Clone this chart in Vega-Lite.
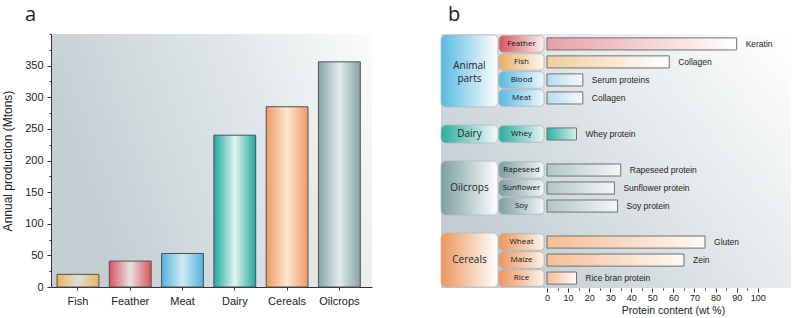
{
  "$schema": "https://vega.github.io/schema/vega-lite/v6.json",
  "padding": {"left": 1, "top": 4, "right": 5, "bottom": 0},
  "background": "white",
  "config": {"view": {"stroke": null}, "font": "Liberation Sans"},
  "datasets": {
    "production": [
      {"source": "Fish", "production": 20},
      {"source": "Feather", "production": 41},
      {"source": "Meat", "production": 53},
      {"source": "Dairy", "production": 240},
      {"source": "Cereals", "production": 285},
      {"source": "Oilcrops", "production": 356}
    ],
    "proteins": [
      {"group": "Animal parts", "sub": "Feather", "protein": "Keratin", "content": 90},
      {"group": "Animal parts", "sub": "Fish", "protein": "Collagen", "content": 58},
      {"group": "Animal parts", "sub": "Blood", "protein": "Serum proteins", "content": 17},
      {"group": "Animal parts", "sub": "Meat", "protein": "Collagen", "content": 17},
      {"group": "Dairy", "sub": "Whey", "protein": "Whey protein", "content": 14},
      {"group": "Oilcrops", "sub": "Rapeseed", "protein": "Rapeseed protein", "content": 35},
      {"group": "Oilcrops", "sub": "Sunflower", "protein": "Sunflower protein", "content": 32},
      {"group": "Oilcrops", "sub": "Soy", "protein": "Soy protein", "content": 33.5},
      {"group": "Cereals", "sub": "Wheat", "protein": "Gluten", "content": 75},
      {"group": "Cereals", "sub": "Maize", "protein": "Zein", "content": 65},
      {"group": "Cereals", "sub": "Rice", "protein": "Rice bran protein", "content": 14}
    ],
    "groups": [
      {"group": "Animal parts", "first": "Feather", "last": "Meat", "mid": "Fish"},
      {"group": "Dairy", "first": "Whey", "last": "Whey", "mid": "Whey"},
      {"group": "Oilcrops", "first": "Rapeseed", "last": "Soy", "mid": "Sunflower"},
      {"group": "Cereals", "first": "Wheat", "last": "Rice", "mid": "Maize"}
    ]
  },
  "spacing": 68,
  "hconcat": [
    {
      "title": {"text": "a", "anchor": "start", "frame": "group", "dx": -26, "fontSize": 20, "font": "Open Sans", "fontWeight": "normal", "color": "#222", "offset": 9},
      "width": 321,
      "height": 253,
      "view": {"stroke": null, "fill": {"gradient": "linear", "x1": 0, "y1": 0.3, "x2": 1, "y2": 0, "stops": [{"offset": 0, "color": "#c3ced3"}, {"offset": 0.6, "color": "#e2e8ea"}, {"offset": 1, "color": "#fbfcfc"}]}},
      "data": {"name": "production"},
      "mark": {"type": "bar", "stroke": "#505050", "strokeWidth": 1},
      "encoding": {
        "x": {
          "field": "source", "type": "nominal", "sort": null,
          "scale": {"paddingInner": 0.2, "paddingOuter": 0.17, "align": 0.34},
          "axis": {"title": null, "labelAngle": 0, "labelFontSize": 11, "labelColor": "#222", "tickSize": 3, "labelPadding": 5, "domainColor": "#333", "tickColor": "#333", "grid": false}
        },
        "y": {
          "field": "production", "type": "quantitative",
          "scale": {"domain": [0, 400], "nice": false},
          "axis": {
            "title": "Annual production (Mtons)", "titleFontSize": 12, "titleFontWeight": "normal", "titleColor": "#222",
            "values": [0, 25, 50, 75, 100, 125, 150, 175, 200, 225, 250, 275, 300, 325, 350, 375, 400],
            "labelExpr": "datum.value % 50 === 0 && datum.value < 400 ? datum.label : ''",
            "tickSize": {"condition": {"test": "datum.value % 50 !== 0 || datum.value === 400", "value": 2}, "value": 4},
            "grid": false, "labelFontSize": 11, "labelColor": "#222", "labelPadding": 4, "titlePadding": 10,
            "domainColor": "#333", "tickColor": "#333"
          }
        },
        "fill": {
          "condition": [
            {"test": "datum.source === 'Fish'", "value": {"gradient": "linear", "x1": 0, "y1": 0, "x2": 1, "y2": 0, "stops": [{"offset": 0, "color": "#e9b65c"}, {"offset": 0.5, "color": "#dfdfdb"}, {"offset": 1, "color": "#e9b65c"}]}},
            {"test": "datum.source === 'Feather'", "value": {"gradient": "linear", "x1": 0, "y1": 0, "x2": 1, "y2": 0, "stops": [{"offset": 0, "color": "#d9545e"}, {"offset": 0.5, "color": "#e6e4e4"}, {"offset": 1, "color": "#d9545e"}]}},
            {"test": "datum.source === 'Meat'", "value": {"gradient": "linear", "x1": 0, "y1": 0, "x2": 1, "y2": 0, "stops": [{"offset": 0, "color": "#52b2df"}, {"offset": 0.5, "color": "#d3eaf4"}, {"offset": 1, "color": "#52b2df"}]}},
            {"test": "datum.source === 'Dairy'", "value": {"gradient": "linear", "x1": 0, "y1": 0, "x2": 1, "y2": 0, "stops": [{"offset": 0, "color": "#1faa9f"}, {"offset": 0.5, "color": "#e2f4f2"}, {"offset": 1, "color": "#1faa9f"}]}},
            {"test": "datum.source === 'Cereals'", "value": {"gradient": "linear", "x1": 0, "y1": 0, "x2": 1, "y2": 0, "stops": [{"offset": 0, "color": "#ef9a60"}, {"offset": 0.5, "color": "#fde6d6"}, {"offset": 1, "color": "#ef9a60"}]}}
          ],
          "value": {"gradient": "linear", "x1": 0, "y1": 0, "x2": 1, "y2": 0, "stops": [{"offset": 0, "color": "#88a4a8"}, {"offset": 0.5, "color": "#e2ebeb"}, {"offset": 1, "color": "#88a4a8"}]}
        }
      }
    },
    {
      "title": {"text": "b", "anchor": "start", "frame": "group", "dx": 7, "fontSize": 20, "font": "Open Sans", "fontWeight": "normal", "color": "#222", "offset": 9},
      "width": 350,
      "height": 254,
      "view": {"stroke": null, "fill": {"gradient": "linear", "x1": 0, "y1": 0.6, "x2": 1, "y2": 0, "stops": [{"offset": 0, "color": "#c3ced3"}, {"offset": 0.5, "color": "#e3e8ea"}, {"offset": 1, "color": "#ffffff"}]}},
      "layer": [
        {
          "data": {"name": "groups"},
          "mark": {"type": "rect", "cornerRadius": 5, "stroke": "#b8b8b8", "strokeWidth": 0.8},
          "encoding": {
            "x": {"datum": -50.3, "type": "quantitative", "scale": {"domain": [-50.3, 115.8], "nice": false, "zero": false},
                  "axis": {"title": "Protein content (wt %)", "titleFontSize": 10.5, "titleFontWeight": "normal", "titleColor": "#222", "titleX": 232, "titlePadding": 3, "values": [0, 5, 10, 15, 20, 25, 30, 35, 40, 45, 50, 55, 60, 65, 70, 75, 80, 85, 90, 95, 100], "labelExpr": "datum.value % 10 === 0 ? datum.label : ''", "tickSize": {"condition": {"test": "datum.value % 10 !== 0", "value": 2}, "value": 4}, "domain": false, "grid": false, "labelFontSize": 9, "labelColor": "#222", "labelPadding": 1, "tickColor": "#333"}},
            "x2": {"datum": -23.3},
            "y": {"field": "first", "type": "nominal", "bandPosition": 0, "axis": null,
                  "scale": {"domain": ["Feather", "Fish", "Blood", "Meat", " ", "Whey", "  ", "Rapeseed", "Sunflower", "Soy", "   ", "Wheat", "Maize", "Rice"], "paddingInner": 0, "paddingOuter": 0.05}},
            "y2": {"field": "last", "bandPosition": 1},
            "fill": {
              "condition": [
                {"test": "datum.group === 'Animal parts'", "value": {"gradient": "linear", "x1": 0, "y1": 0, "x2": 1, "y2": 0, "stops": [{"offset": 0, "color": "#58b9e3"}, {"offset": 1, "color": "#ffffff"}]}},
                {"test": "datum.group === 'Dairy'", "value": {"gradient": "linear", "x1": 0, "y1": 0, "x2": 1, "y2": 0, "stops": [{"offset": 0, "color": "#2aada2"}, {"offset": 1, "color": "#f4fbfa"}]}},
                {"test": "datum.group === 'Oilcrops'", "value": {"gradient": "linear", "x1": 0, "y1": 0, "x2": 1, "y2": 0, "stops": [{"offset": 0, "color": "#7b9ea2"}, {"offset": 1, "color": "#ffffff"}]}}
              ],
              "value": {"gradient": "linear", "x1": 0, "y1": 0, "x2": 1, "y2": 0, "stops": [{"offset": 0, "color": "#ed965c"}, {"offset": 1, "color": "#ffffff"}]}
            }
          }
        },
        {
          "data": {"name": "groups"},
          "transform": [{"filter": "datum.group === 'Animal parts'"}],
          "mark": {"type": "text", "fontSize": 10, "font": "Open Sans", "color": "#222", "lineBreak": " ", "lineHeight": 13, "baseline": "middle", "dy": -5},
          "encoding": {
            "x": {"datum": -36.8, "type": "quantitative",
                  "axis": {"title": "Protein content (wt %)", "titleFontSize": 10.5, "titleFontWeight": "normal", "titleColor": "#222", "titleX": 232, "titlePadding": 3, "values": [0, 5, 10, 15, 20, 25, 30, 35, 40, 45, 50, 55, 60, 65, 70, 75, 80, 85, 90, 95, 100], "labelExpr": "datum.value % 10 === 0 ? datum.label : ''", "tickSize": {"condition": {"test": "datum.value % 10 !== 0", "value": 2}, "value": 4}, "domain": false, "grid": false, "labelFontSize": 9, "labelColor": "#222", "labelPadding": 1, "tickColor": "#333"}},
            "y": {"field": "mid", "type": "nominal", "bandPosition": 1, "axis": null},
            "text": {"field": "group"}
          }
        },
        {
          "data": {"name": "groups"},
          "transform": [{"filter": "datum.group !== 'Animal parts'"}],
          "mark": {"type": "text", "fontSize": 10, "font": "Open Sans", "color": "#222", "baseline": "middle"},
          "encoding": {
            "x": {"datum": -36.8, "type": "quantitative",
                  "axis": {"title": "Protein content (wt %)", "titleFontSize": 10.5, "titleFontWeight": "normal", "titleColor": "#222", "titleX": 232, "titlePadding": 3, "values": [0, 5, 10, 15, 20, 25, 30, 35, 40, 45, 50, 55, 60, 65, 70, 75, 80, 85, 90, 95, 100], "labelExpr": "datum.value % 10 === 0 ? datum.label : ''", "tickSize": {"condition": {"test": "datum.value % 10 !== 0", "value": 2}, "value": 4}, "domain": false, "grid": false, "labelFontSize": 9, "labelColor": "#222", "labelPadding": 1, "tickColor": "#333"}},
            "y": {"field": "mid", "type": "nominal", "axis": null},
            "text": {"field": "group"}
          }
        },
        {
          "data": {"name": "proteins"},
          "mark": {"type": "bar", "cornerRadius": 4, "stroke": "#b0b0b0", "strokeWidth": 0.8, "height": {"band": 0.92}},
          "encoding": {
            "x": {"datum": -22.8, "type": "quantitative",
                  "axis": {"title": "Protein content (wt %)", "titleFontSize": 10.5, "titleFontWeight": "normal", "titleColor": "#222", "titleX": 232, "titlePadding": 3, "values": [0, 5, 10, 15, 20, 25, 30, 35, 40, 45, 50, 55, 60, 65, 70, 75, 80, 85, 90, 95, 100], "labelExpr": "datum.value % 10 === 0 ? datum.label : ''", "tickSize": {"condition": {"test": "datum.value % 10 !== 0", "value": 2}, "value": 4}, "domain": false, "grid": false, "labelFontSize": 9, "labelColor": "#222", "labelPadding": 1, "tickColor": "#333"}},
            "x2": {"datum": -1.4},
            "y": {"field": "sub", "type": "nominal", "axis": null},
            "fill": {
              "condition": [
                {"test": "datum.sub === 'Feather'", "value": {"gradient": "linear", "x1": 0, "y1": 0, "x2": 1, "y2": 0, "stops": [{"offset": 0, "color": "#d6545e"}, {"offset": 1, "color": "#fbf1f1"}]}},
                {"test": "datum.sub === 'Fish'", "value": {"gradient": "linear", "x1": 0, "y1": 0, "x2": 1, "y2": 0, "stops": [{"offset": 0, "color": "#e6b066"}, {"offset": 1, "color": "#fdf8f0"}]}},
                {"test": "datum.group === 'Animal parts'", "value": {"gradient": "linear", "x1": 0, "y1": 0, "x2": 1, "y2": 0, "stops": [{"offset": 0, "color": "#58b9e3"}, {"offset": 1, "color": "#eef8fc"}]}},
                {"test": "datum.group === 'Dairy'", "value": {"gradient": "linear", "x1": 0, "y1": 0, "x2": 1, "y2": 0, "stops": [{"offset": 0, "color": "#2aada2"}, {"offset": 1, "color": "#e8f6f4"}]}},
                {"test": "datum.group === 'Oilcrops'", "value": {"gradient": "linear", "x1": 0, "y1": 0, "x2": 1, "y2": 0, "stops": [{"offset": 0, "color": "#7b9ea2"}, {"offset": 1, "color": "#f3f6f6"}]}}
              ],
              "value": {"gradient": "linear", "x1": 0, "y1": 0, "x2": 1, "y2": 0, "stops": [{"offset": 0, "color": "#ed965c"}, {"offset": 1, "color": "#fdf3ec"}]}
            }
          }
        },
        {
          "data": {"name": "proteins"},
          "mark": {"type": "text", "fontSize": 8, "font": "Open Sans", "color": "#111", "baseline": "middle"},
          "encoding": {
            "x": {"datum": -12.1, "type": "quantitative",
                  "axis": {"title": "Protein content (wt %)", "titleFontSize": 10.5, "titleFontWeight": "normal", "titleColor": "#222", "titleX": 232, "titlePadding": 3, "values": [0, 5, 10, 15, 20, 25, 30, 35, 40, 45, 50, 55, 60, 65, 70, 75, 80, 85, 90, 95, 100], "labelExpr": "datum.value % 10 === 0 ? datum.label : ''", "tickSize": {"condition": {"test": "datum.value % 10 !== 0", "value": 2}, "value": 4}, "domain": false, "grid": false, "labelFontSize": 9, "labelColor": "#222", "labelPadding": 1, "tickColor": "#333"}},
            "y": {"field": "sub", "type": "nominal", "axis": null},
            "text": {"field": "sub"}
          }
        },
        {
          "data": {"name": "proteins"},
          "mark": {"type": "bar", "stroke": "#707070", "strokeWidth": 1, "height": {"band": 0.67}},
          "encoding": {
            "x": {
              "field": "content", "type": "quantitative",
              "axis": {"title": "Protein content (wt %)", "titleFontSize": 10.5, "titleFontWeight": "normal", "titleColor": "#222", "titleX": 232, "titlePadding": 3, "values": [0, 5, 10, 15, 20, 25, 30, 35, 40, 45, 50, 55, 60, 65, 70, 75, 80, 85, 90, 95, 100], "labelExpr": "datum.value % 10 === 0 ? datum.label : ''", "tickSize": {"condition": {"test": "datum.value % 10 !== 0", "value": 2}, "value": 4}, "domain": false, "grid": false, "labelFontSize": 9, "labelColor": "#222", "labelPadding": 1, "tickColor": "#333"}
            },
            "y": {"field": "sub", "type": "nominal", "axis": null},
            "fill": {
              "condition": [
                {"test": "datum.sub === 'Feather'", "value": {"gradient": "linear", "x1": 0, "y1": 0, "x2": 1, "y2": 0, "stops": [{"offset": 0, "color": "#e8a0a7"}, {"offset": 1, "color": "#ffffff"}]}},
                {"test": "datum.sub === 'Fish'", "value": {"gradient": "linear", "x1": 0, "y1": 0, "x2": 1, "y2": 0, "stops": [{"offset": 0, "color": "#f2cd9c"}, {"offset": 1, "color": "#ffffff"}]}},
                {"test": "datum.group === 'Animal parts'", "value": {"gradient": "linear", "x1": 0, "y1": 0, "x2": 1, "y2": 0, "stops": [{"offset": 0, "color": "#b3ddf1"}, {"offset": 1, "color": "#f4fafd"}]}},
                {"test": "datum.group === 'Dairy'", "value": {"gradient": "linear", "x1": 0, "y1": 0, "x2": 1, "y2": 0, "stops": [{"offset": 0, "color": "#2fb3a8"}, {"offset": 1, "color": "#d4efec"}]}},
                {"test": "datum.group === 'Oilcrops'", "value": {"gradient": "linear", "x1": 0, "y1": 0, "x2": 1, "y2": 0, "stops": [{"offset": 0, "color": "#b3c5c8"}, {"offset": 1, "color": "#f4f7f7"}]}}
              ],
              "value": {"gradient": "linear", "x1": 0, "y1": 0, "x2": 1, "y2": 0, "stops": [{"offset": 0, "color": "#f5be96"}, {"offset": 1, "color": "#fffaf6"}]}
            }
          }
        },
        {
          "data": {"name": "proteins"},
          "mark": {"type": "text", "fontSize": 8.5, "color": "#222", "align": "left", "dx": 9, "baseline": "middle"},
          "encoding": {
            "x": {"field": "content", "type": "quantitative",
                  "axis": {"title": "Protein content (wt %)", "titleFontSize": 10.5, "titleFontWeight": "normal", "titleColor": "#222", "titleX": 232, "titlePadding": 3, "values": [0, 5, 10, 15, 20, 25, 30, 35, 40, 45, 50, 55, 60, 65, 70, 75, 80, 85, 90, 95, 100], "labelExpr": "datum.value % 10 === 0 ? datum.label : ''", "tickSize": {"condition": {"test": "datum.value % 10 !== 0", "value": 2}, "value": 4}, "domain": false, "grid": false, "labelFontSize": 9, "labelColor": "#222", "labelPadding": 1, "tickColor": "#333"}},
            "y": {"field": "sub", "type": "nominal", "axis": null},
            "text": {"field": "protein"}
          }
        }
      ]
    }
  ]
}
